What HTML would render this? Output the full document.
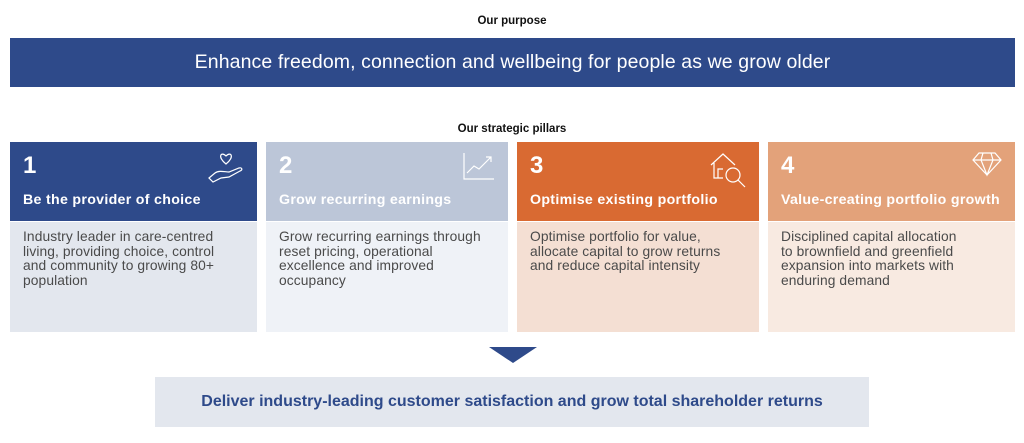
<!DOCTYPE html>
<html><head><meta charset="utf-8"><style>
*{margin:0;padding:0;box-sizing:border-box}
body{width:1024px;height:443px;background:#fff;font-family:"Liberation Sans",sans-serif;position:relative;overflow:hidden}
.abs{position:absolute}
.lbl{font-size:11.5px;font-weight:bold;color:#111;text-align:center;width:1024px;left:0}
.banner{left:10px;top:38px;width:1005px;height:49px;background:#2e4a8a;color:#fff;font-size:19.5px;text-align:center;line-height:49px;letter-spacing:0.1px}
.card{top:142px;height:190px}
.hd{height:79px;position:relative;color:#fff}
.num{position:absolute;left:13px;top:10px;font-size:24px;font-weight:bold}
.tt{position:absolute;left:13px;top:50px;font-size:14.2px;font-weight:bold;letter-spacing:0.3px;white-space:nowrap}
.bd{height:110px;margin-top:1px;padding:8px 13px;font-size:13.8px;line-height:14.5px;letter-spacing:0.1px;color:#4a4a4a;white-space:nowrap}
.ic{position:absolute;right:12px;top:9px}
</style></head><body>
<div class="abs lbl" style="top:15px">Our purpose</div>
<div class="abs banner">Enhance freedom, connection and wellbeing for people as we grow older</div>
<div class="abs lbl" style="top:123px">Our strategic pillars</div>

<div class="abs card" style="left:10px;width:247px">
 <div class="hd" style="background:#2e4a8a"><div class="num">1</div><div class="tt">Be the provider of choice</div>
 <svg class="ic" width="38" height="32" viewBox="0 0 38 32" fill="none" stroke="#fff" stroke-width="1.2"><path d="M19 13 C10 6 14 0 19 5 C24 0 28 6 19 13Z"/><path d="M2 27 L8 22 C12 19 18 21 22 21 L32 17 C35 16 36 19 33 20 L22 26 L14 27 L6 31Z"/></svg></div>
 <div class="bd" style="background:#e3e7ee">Industry leader in care-centred<br>living, providing choice, control<br>and community to growing 80+<br>population</div>
</div>
<div class="abs card" style="left:266px;width:242px">
 <div class="hd" style="background:#bcc6d8"><div class="num">2</div><div class="tt">Grow recurring earnings</div>
 <svg class="ic" width="34" height="30" viewBox="0 0 34 30" fill="none" stroke="#fff" stroke-width="1.2"><path d="M2 2 V28 H32"/><path d="M5 22 L12 15 L17 18 L29 6 M24 6 H29 V11"/></svg></div>
 <div class="bd" style="background:#eff2f7">Grow recurring earnings through<br>reset pricing, operational<br>excellence and improved<br>occupancy</div>
</div>
<div class="abs card" style="left:517px;width:242px">
 <div class="hd" style="background:#d96a32"><div class="num">3</div><div class="tt">Optimise existing portfolio</div>
 <svg class="ic" width="38" height="38" viewBox="0 0 38 38" fill="none" stroke="#fff" stroke-width="1.2"><path d="M2 14 L14 3 L26 14 M5 12 V27 H14 M9 27 V18 H14"/><circle cx="24" cy="24" r="7"/><path d="M29 29 L36 36"/></svg></div>
 <div class="bd" style="background:#f4dfd3">Optimise portfolio for value,<br>allocate capital to grow returns<br>and reduce capital intensity</div>
</div>
<div class="abs card" style="left:768px;width:247px">
 <div class="hd" style="background:#e3a27a"><div class="num">4</div><div class="tt">Value-creating portfolio growth</div>
 <svg class="ic" width="32" height="26" viewBox="0 0 32 26" fill="none" stroke="#fff" stroke-width="1.2"><path d="M8 2 H24 L30 9 L16 24 L2 9Z M2 9 H30 M12 2 L10 9 L16 24 L22 9 L20 2"/></svg></div>
 <div class="bd" style="background:#f8eae1">Disciplined capital allocation<br>to brownfield and greenfield<br>expansion into markets with<br>enduring demand</div>
</div>

<svg class="abs" style="left:489px;top:347px" width="48" height="16"><polygon points="0,0 48,0 24,16" fill="#2e4a8a"/></svg>
<div class="abs" style="left:155px;top:377px;width:714px;height:50px;background:#e3e7ee;color:#2e4a8a;font-weight:bold;font-size:16px;text-align:center;line-height:50px">Deliver industry-leading customer satisfaction and grow total shareholder returns</div>
</body></html>
